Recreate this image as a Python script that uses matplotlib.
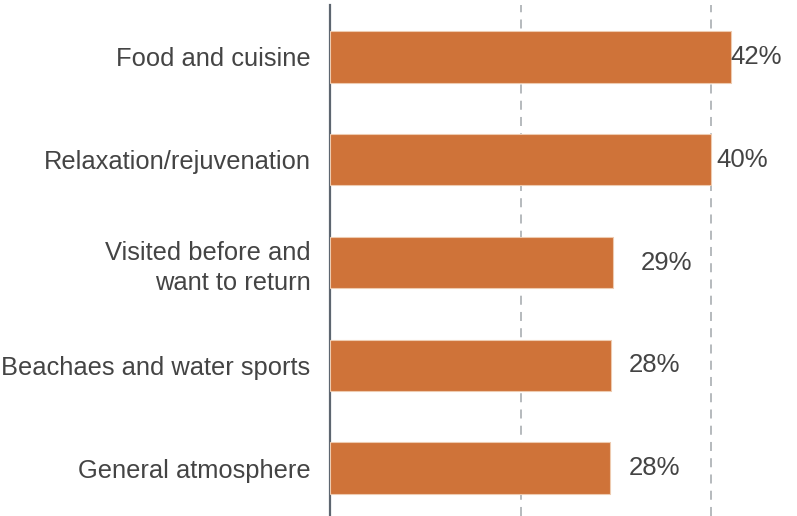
import matplotlib.pyplot as plt

plt.rcParams['font.family'] = ['Liberation Sans', 'DejaVu Sans']

categories = ['Food and cuisine', 'Relaxation/rejuvenation', 'Visited before and\nwant to return',
              'Beachaes and water sports', 'General atmosphere']
values = [42.1, 40.0, 29.7, 29.5, 29.4]
labels = ['42%', '40%', '29%', '28%', '28%']
# how far each value label sits from its bar end (in % units)
label_gap = [-0.1, 0.5, 2.9, 1.8, 1.9]

bar_colour = '#CF7339'
text_colour = '#444444'

fig = plt.figure(figsize=(7.97, 5.16), dpi=100)
ax = fig.add_axes([330 / 797, 0, 1 - 330 / 797, 1 - 5 / 516])

ypos = list(range(len(categories)))
ax.barh(ypos, values, height=0.5, color=bar_colour, edgecolor='#eecbb0', linewidth=0.8, zorder=3)

for y, v, lab, gap in zip(ypos, values, labels, label_gap):
    ax.text(v + gap, y, lab, va='center', ha='left', fontsize=18.5, color=text_colour, zorder=4)

ax.set_xlim(0, 49.0)
ax.set_ylim(4.467, -0.506)

ax.set_yticks(ypos)
ax.set_yticklabels(categories, fontsize=18.4, color=text_colour, linespacing=1.3)
ax.tick_params(axis='y', length=0, pad=14)
ax.set_xticks([20, 40])
ax.tick_params(axis='x', length=0, labelbottom=False)
ax.xaxis.grid(True, linestyle=(0, (5, 4)), color='#b0b4b8', linewidth=1.3, zorder=0)

for side in ['top', 'right', 'bottom']:
    ax.spines[side].set_visible(False)
ax.spines['left'].set_color('#5d6670')
ax.spines['left'].set_linewidth(1.6)

plt.savefig('out.png', dpi=100)
